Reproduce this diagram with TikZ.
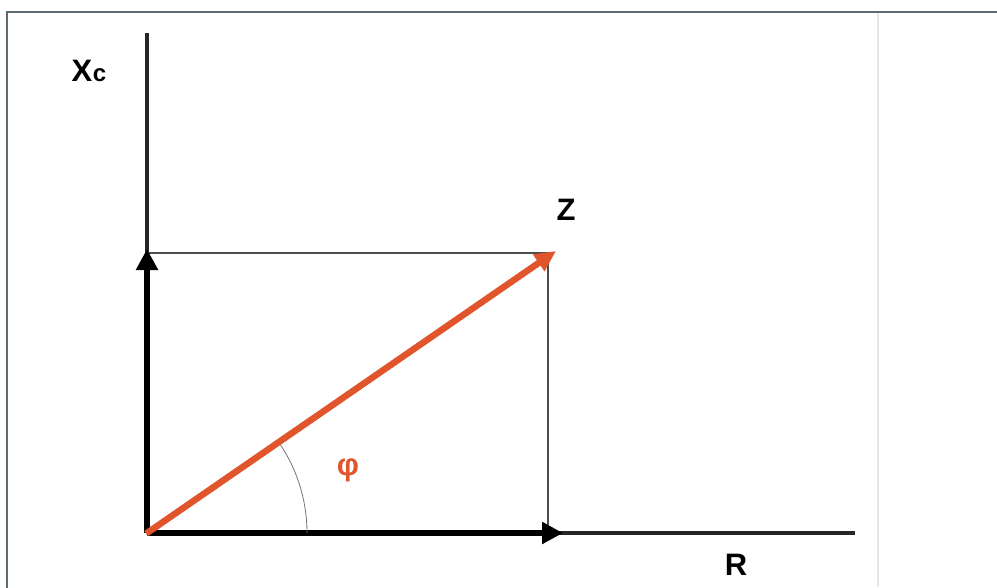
\documentclass[tikz,border=0pt]{standalone}
\usepackage{fontspec}
\setmainfont{Liberation Sans}
\usetikzlibrary{arrows.meta}
\definecolor{framec}{HTML}{5F6B73}
\definecolor{vecc}{HTML}{E0552C}
\definecolor{sepc}{HTML}{E6E6E6}
\tikzset{
  axisline/.style={line width=3.3pt, black!85},
  thickvec/.style={line width=6.5pt, black, -{Triangle[length=21pt,width=21pt]}},
  guide/.style={line width=1.2pt, black!70},
  zvec/.style={line width=6.5pt, vecc, -{Triangle[length=21pt,width=19pt]}},
  lbl/.style={font=\bfseries\fontsize{31pt}{31pt}\selectfont, inner sep=0pt},
}
\begin{document}
\begin{tikzpicture}[x=1pt,y=-1pt]
\useasboundingbox (0,0) rectangle (997,587);
\fill[white] (0,0) rectangle (997,587);
% frame
\draw[framec, line width=2.5pt] (7,590) -- (7,12) -- (1000,12);
\draw[sepc, line width=1.5pt] (878,13) -- (878,587);
% coordinates
\coordinate (O) at (147,533);
\coordinate (ytop) at (147,33);
\coordinate (xend) at (855,533);
\coordinate (Xtip) at (147,249);
\coordinate (Rtip) at (563,533);
\coordinate (C) at (548,253);
\coordinate (Cy) at (147,253);
\coordinate (Cx) at (548,533);
\coordinate (Ztip) at (556,251);
% axes
\draw[axisline] (O) -- (ytop);
\draw[axisline] (O) -- (xend);
% guides
\draw[guide] (Cy) -- (C) -- (Cx);
% thick arrows
\draw[thickvec] (O) -- (Xtip);
\draw[thickvec] (O) -- (Rtip);
% angle arc
\draw[black!55, line width=0.8pt] (307,533) arc[start angle=0, end angle=-34.5, radius=160];
% Z vector
\draw[zvec, shorten <=-1pt] (O) -- (Ztip);
% labels
\node[lbl] (xc) at (89,71) {X\kern0.5pt\fontsize{24pt}{24pt}\selectfont c};
\node[lbl] (z) at (566,210) {Z};
\node[lbl] (r) at (736,565) {R};
\node[lbl, text=vecc] (phi) at (348,470) {φ};
\end{tikzpicture}
\end{document}
